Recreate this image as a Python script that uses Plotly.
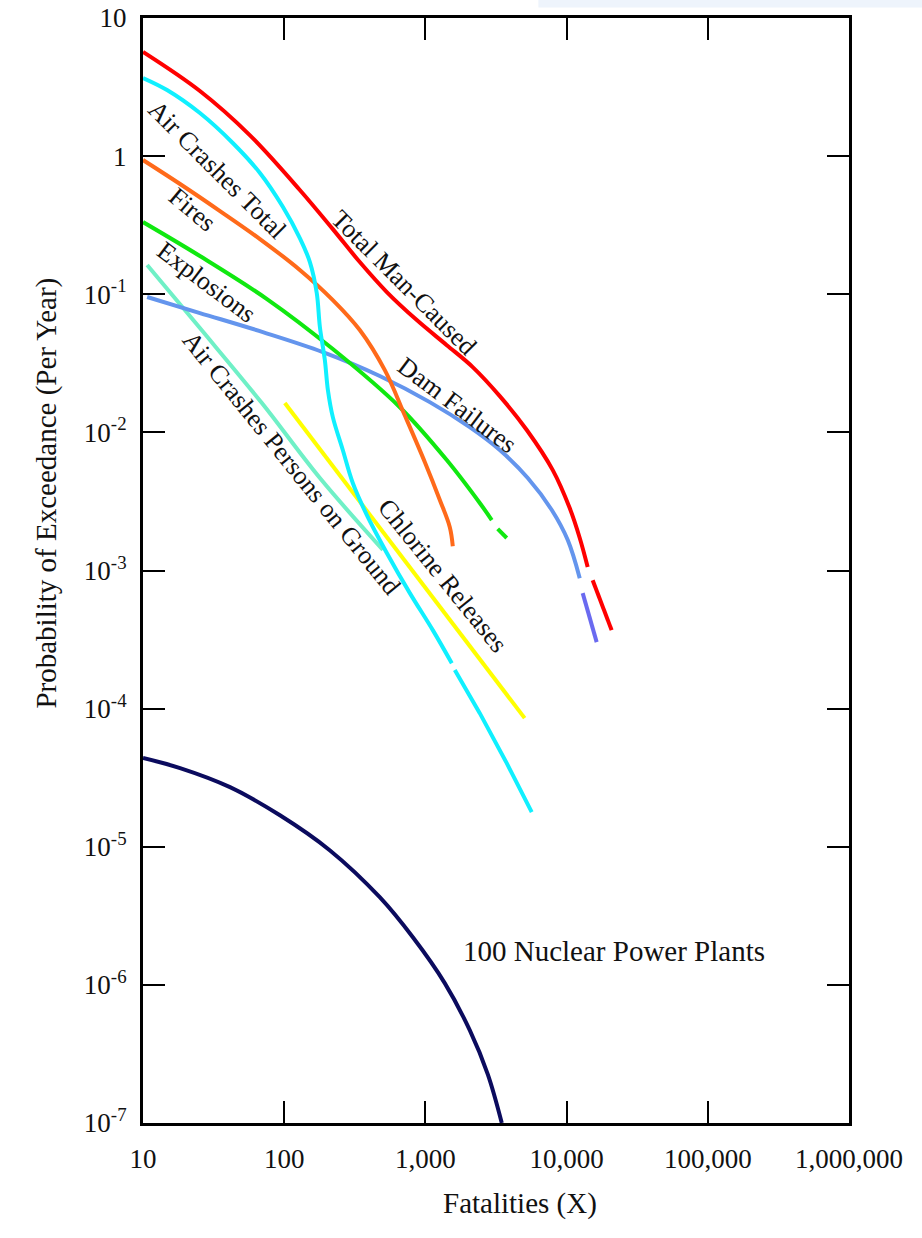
import plotly.graph_objects as go

# ---- data (fatalities X, probability of exceedance per year) ----
total_x = [10, 25.3, 57, 129, 221, 343, 533, 869, 1417, 2163, 3364, 5224, 7980, 10520, 12390, 14100]
total_y = [5.68, 2.96, 1.42, 0.569, 0.296, 0.171, 0.1037, 0.065, 0.0428, 0.0297, 0.0183, 0.0104, 0.00533, 0.00283, 0.00172, 0.00106]
total_x_ext = [15300, 20840]
total_y_ext = [0.00085, 0.00037]

air_x = [10, 14.8, 25.3, 43.4, 67.3, 98, 129, 152, 170, 179, 194, 204, 221, 260, 306, 385, 533, 776, 1128, 1538]
air_y = [3.68, 3.01, 2.05, 1.24, 0.755, 0.428, 0.255, 0.171, 0.102, 0.0578, 0.0334, 0.0202, 0.0129, 0.00745, 0.0043, 0.00252, 0.00134, 0.000686, 0.00037, 0.000213]
air_x_ext = [1615, 2427, 3767, 5662]
air_y_ext = [0.00019, 0.0000927, 0.0000403, 0.0000178]

fires_x = [10, 18.3, 35.1, 67.3, 129, 221, 343, 516, 714, 990, 1265, 1489, 1563]
fires_y = [0.937, 0.628, 0.4, 0.251, 0.15, 0.0908, 0.0551, 0.0282, 0.0133, 0.0061, 0.00324, 0.00206, 0.0015]

expl_x = [10, 25.3, 75.5, 221, 659, 1417, 2427, 2951]
expl_y = [0.333, 0.189, 0.0923, 0.0401, 0.0152, 0.0063, 0.00308, 0.00232]
expl_x_ext = [3251, 3767]
expl_y_ext = [0.002, 0.00172]

ground_x = [10.7, 25.3, 69.5, 179, 500]
ground_y = [0.163, 0.0569, 0.0163, 0.00467, 0.00141]

dam_x = [10.7, 25.3, 70.6, 188, 475, 1074, 2061, 3364, 5309, 7852, 10190, 12390]
dam_y = [0.0955, 0.0731, 0.0532, 0.0381, 0.0256, 0.01656, 0.0109, 0.00745, 0.00467, 0.00274, 0.00166, 0.00088]
dam_x_ext = [13000, 16330]
dam_y_ext = [0.000686, 0.000303]

chlor_x = [101, 714, 5047]
chlor_y = [0.0163, 0.00119, 0.0000853]

nuc_x = [10, 18.3, 41.3, 93.3, 210, 475, 815, 1371, 2061, 2767, 3475]
nuc_y = [4.39e-5, 3.71e-5, 2.70e-5, 1.69e-5, 9.44e-6, 4.31e-6, 2.21e-6, 1.03e-6, 4.7e-7, 2.25e-7, 1.0e-7]

x_ticks = [10, 100, 1000, 10000, 100000, 1000000]
x_ticktext = ["10", "100", "1,000", "10,000", "100,000", "1,000,000"]
y_ticks = [10, 1, 0.1, 0.01, 0.001, 1e-4, 1e-5, 1e-6, 1e-7]
y_ticktext = ["10", "1", "10<sup>-1</sup>", "10<sup>-2</sup>", "10<sup>-3</sup>", "10<sup>-4</sup>",
              "10<sup>-5</sup>", "10<sup>-6</sup>", "10<sup>-7</sup>"]

FONT = "Liberation Serif"

fig = go.Figure()

def add(x, y, color, width=4, shape="spline"):
    fig.add_trace(go.Scatter(x=x, y=y, mode="lines",
                             line=dict(color=color, width=width, shape=shape, smoothing=1.0),
                             showlegend=False, hoverinfo="skip"))

add(nuc_x, nuc_y, "#0b0b5e")
add(ground_x, ground_y, "#6ff0c6")
add(chlor_x, chlor_y, "#ffff00", shape="linear")
add(dam_x, dam_y, "#6495ed")
add(dam_x_ext, dam_y_ext, "#6a6af0", shape="linear")
add(expl_x, expl_y, "#10e810")
add(expl_x_ext, expl_y_ext, "#10e810", shape="linear")
add(fires_x, fires_y, "#ff6a1a")
add(air_x, air_y, "#10f0ff")
add(air_x_ext, air_y_ext, "#10f0ff", shape="linear")
add(total_x, total_y, "#ff0000")
add(total_x_ext, total_y_ext, "#ff0000", shape="linear")

# curve labels (data coordinates in log10 units)
labels = [
    ("Air Crashes Total", 1.531, -0.101, 45),
    ("Fires", 1.347, -0.39, 40),
    ("Explosions", 1.453, -0.912, 37),
    ("Air Crashes Persons on Ground", 2.054, -2.222, 51),
    ("Total Man-Caused", 2.847, -0.912, 45),
    ("Dam Failures", 3.229, -1.802, 37),
    ("Chlorine Releases", 3.123, -3.033, 51),
]
for text, lx, ly, ang in labels:
    fig.add_annotation(x=lx, y=ly, xref="x", yref="y", text=text, textangle=ang,
                       showarrow=False, font=dict(family=FONT, size=26, color="#111"))

fig.add_annotation(x=4.333, y=-5.756, xref="x", yref="y", text="100 Nuclear Power Plants",
                   showarrow=False, font=dict(family=FONT, size=29, color="#111"))

# axis titles
fig.add_annotation(x=0.534, y=-0.0896, xref="paper", yref="paper", text="Fatalities (X)",
                   showarrow=False, font=dict(family=FONT, size=29, color="#111"))
fig.add_annotation(x=-0.163, y=0.570, xref="paper", yref="paper",
                   text="Probability of Exceedance (Per Year)", textangle=-90,
                   showarrow=False, font=dict(family=FONT, size=29, color="#111"))

# faint top band
fig.add_shape(type="rect", xref="paper", yref="paper", x0=0.56, x1=1.11, y0=1.0095, y1=1.0163,
              fillcolor="#eef4fc", line=dict(width=0), layer="below")

axis_common = dict(
    showline=True, linecolor="black", linewidth=3, mirror="ticks",
    ticks="inside", ticklen=22, tickwidth=1.5, tickcolor="black",
    showgrid=False, zeroline=False, automargin=False,
    tickfont=dict(family=FONT, size=27, color="#111"),
)

fig.update_xaxes(type="log", range=[1, 6], tickvals=x_ticks, ticktext=x_ticktext,
                 ticklabelstandoff=10, **axis_common)
fig.update_yaxes(type="log", range=[-7, 1], tickvals=y_ticks, ticktext=y_ticktext,
                 ticklabelstandoff=8, **axis_common)

fig.update_layout(
    width=922, height=1238,
    margin=dict(l=143, r=73, t=18, b=115),
    paper_bgcolor="white", plot_bgcolor="white",
    showlegend=False,
)

fig.write_html("out.html")
